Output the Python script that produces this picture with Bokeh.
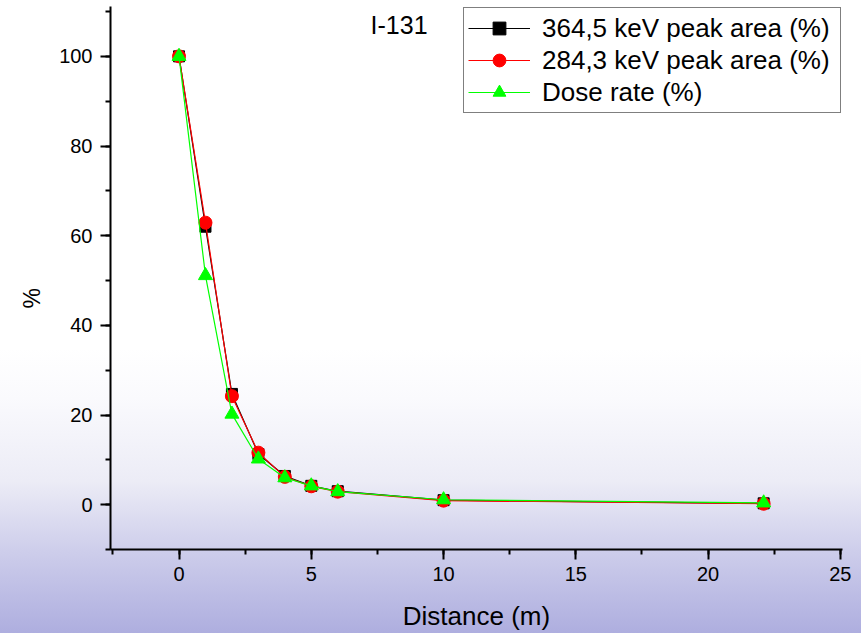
import numpy as np
from bokeh.plotting import figure
from bokeh.models import (Range1d, SingleIntervalTicker, Legend, LegendItem, Label, Title,
                          GlobalInlineStyleSheet)
from bokeh.embed import file_html
from bokeh.resources import INLINE

# ---- data ----
distance = [0, 1, 2, 3, 4, 5, 6, 10, 22.1]
peak_364 = [100, 62.0, 24.7, 11.3, 6.4, 4.2, 3.0, 1.0, 0.3]
peak_284 = [100, 62.9, 24.2, 11.6, 6.2, 4.1, 2.9, 0.9, 0.2]
dose_rate = [100, 51.1, 20.2, 10.2, 6.0, 4.2, 2.9, 1.1, 0.4]

series_labels = ["364,5 keV peak area (%)", "284,3 keV peak area (%)", "Dose rate (%)"]
x_label = "Distance (m)"
y_label = "%"
annotation = "I-131"

FONT = "Liberation Sans"

p = figure(width=861, height=633, output_backend="svg", toolbar_location=None,
           x_range=Range1d(-2.59, 25.08), y_range=Range1d(-10, 111.12),
           min_border_left=110, min_border_right=19, min_border_top=6, min_border_bottom=81)

p.background_fill_color = None
p.border_fill_color = None
p.outline_line_color = None
p.grid.visible = False

p.stylesheets = [GlobalInlineStyleSheet(css="""
html { height: 100%; background: linear-gradient(to bottom, #ffffff 0%, #ffffff 55%,
  #fafafd 63%, #ececf6 76%, #cbcbea 88%, #aeaedf 100%); }
body { background: transparent; }
""")]

p.xaxis.ticker = SingleIntervalTicker(interval=5, num_minor_ticks=2)
p.yaxis.ticker = SingleIntervalTicker(interval=20, num_minor_ticks=2)

for ax in p.axis:
    ax.axis_line_width = 2
    ax.axis_line_color = "black"
    ax.major_tick_line_width = 2
    ax.minor_tick_line_width = 2
    ax.major_tick_line_color = "black"
    ax.minor_tick_line_color = "black"
    ax.major_tick_out = 10
    ax.major_tick_in = 0
    ax.minor_tick_out = 5
    ax.minor_tick_in = 0
    ax.major_label_text_font = FONT
    ax.major_label_text_font_size = "20px"
    ax.major_label_text_color = "black"

p.xaxis.major_label_standoff = 7
p.yaxis.major_label_standoff = 8
p.xaxis.axis_label = x_label
p.xaxis.axis_label_text_font = FONT
p.xaxis.axis_label_text_font_size = "26px"
p.xaxis.axis_label_text_font_style = "normal"
p.xaxis.axis_label_text_color = "black"
p.xaxis.axis_label_standoff = 17

# ---- series ----
l1 = p.line(distance, peak_364, line_color="black", line_width=1.2)
s1 = p.scatter(distance, peak_364, marker="square", size=11, fill_color="black", line_color="black")
l2 = p.line(distance, peak_284, line_color="#ff0000", line_width=1.2)
s2 = p.scatter(distance, peak_284, marker="circle", size=13, fill_color="#ff0000", line_color="#ff0000")
l3 = p.line(distance, dose_rate, line_color="#00ff00", line_width=1.2)
s3 = p.scatter(distance, dose_rate, marker="triangle", size=14, fill_color="#00ff00", line_color="#00ff00")

legend = Legend(items=[
    LegendItem(label=series_labels[0], renderers=[l1, s1]),
    LegendItem(label=series_labels[1], renderers=[l2, s2]),
    LegendItem(label=series_labels[2], renderers=[l3, s3]),
], location=(353, 436), padding=4, spacing=0, margin=0,
   glyph_width=62, glyph_height=32, label_height=32, label_width=294, label_standoff=12,
   label_text_font=FONT, label_text_font_size="26px", label_text_color="black",
   border_line_color="black", border_line_width=1,
   background_fill_color="white", background_fill_alpha=1.0)
p.add_layout(legend)

p.add_layout(Label(x=7.24, y=107.1, text=annotation, text_font=FONT, text_font_size="25px",
                   text_align="left", text_baseline="alphabetic", text_color="black"))

ytitle = Title(text=y_label, align="left", offset=241, standoff=24,
               text_font=FONT, text_font_size="23px", text_font_style="normal",
               text_color="black")
p.add_layout(ytitle, "left")

open("out.html", "w").write(file_html(p, INLINE))
